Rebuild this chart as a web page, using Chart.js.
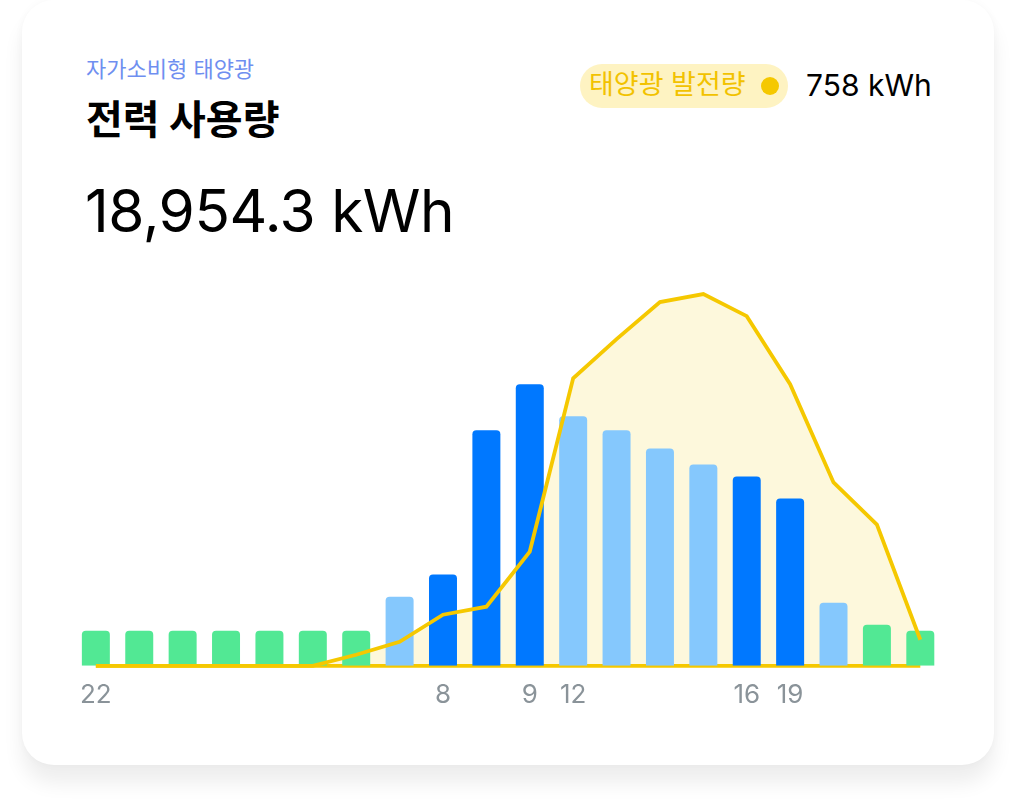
<!DOCTYPE html>
<html><head><meta charset="utf-8">
<script src="https://cdn.jsdelivr.net/npm/chart.js@4.4.1/dist/chart.umd.min.js"></script>
<style>
html,body{margin:0;padding:0;background:#fff;width:1016px;height:812px;overflow:hidden;font-family:Inter,"Noto Sans CJK KR",sans-serif}
.card{position:absolute;left:22px;top:0;width:972px;height:765px;border-radius:32px;background:#fff;box-shadow:0 18px 20px rgba(0,0,0,0.07),0 0 8px rgba(0,0,0,0.03)}
.t{position:absolute;white-space:nowrap;line-height:1}
.sub{left:86px;top:58px;font-size:22px;color:#6f8ff0}
.title{left:86px;top:100px;font-size:40px;font-weight:700;color:#000}
.big{left:85px;top:182px;font-size:58.5px;color:#000;letter-spacing:-0.5px}
.pill{position:absolute;left:580px;top:64px;width:208px;height:44px;border-radius:22px;background:#fef3c2}
.pilltxt{left:589px;top:71px;font-size:27px;color:#f2c200}
.dot{position:absolute;left:761px;top:77px;width:18px;height:18px;border-radius:50%;background:#f5c800}
.val{left:806px;top:70px;font-size:30px;color:#000}
#wrap{position:absolute;left:74px;top:251px;width:868px;height:466px}
</style></head>
<body>
<div class="card"></div>
<div class="t sub">자가소비형 태양광</div>
<div class="t title">전력 사용량</div>
<div class="t big">18,954.3 kWh</div>
<div class="pill"></div>
<div class="t pilltxt">태양광 발전량</div>
<div class="dot"></div>
<div class="t val">758 kWh</div>
<div id="wrap"><canvas id="c"></canvas></div>
<script>
// hourly slots (tick labels shown only where the original shows them)
const tickLabels = ['22','','','','','','','','8','','9','12','','','','16','19','','',''];
// electricity usage per slot (relative units)
const usage = [35,35,35,35,35,35,35,69,91,235,281,249,235,217,201,189,167,63,41,35];
// load type per slot: off = off-peak, mid = mid-load, peak = peak load
const loadType = ['off','off','off','off','off','off','off','mid','peak','peak','peak','mid','mid','mid','mid','peak','peak','mid','off','off'];
// solar generation per slot (same relative units)
const solar = [0,0,0,0,0,0,11,24,51,59,114,287,326,363,371,349,281,183,141,26];
// zero reference line
const baseline = [0,0,0,0,0,0,0,0,0,0,0,0,0,0,0,0,0,0,0,0];

const loadColors = {off:'#52e894', mid:'#85c8fd', peak:'#0078ff'};

new Chart(document.getElementById('c'), {
  type: 'bar',
  data: {
    labels: tickLabels,
    datasets: [
      {type:'line', data: solar, borderColor:'#f5c800', borderWidth:3.8, pointRadius:0, tension:0,
       fill:'origin', backgroundColor:'#fdf8dc', order:0, clip:false, borderJoinStyle:'miter'},
      {type:'bar', data: usage, backgroundColor: loadType.map(t => loadColors[t]),
       barPercentage:0.645, categoryPercentage:1, borderRadius:4, borderSkipped:'start', order:1},
      {type:'line', data: baseline, borderColor:'#f5c800', borderWidth:3.8, pointRadius:0, fill:false, order:2, clip:false}
    ]
  },
  options: {
    responsive:true, maintainAspectRatio:false, animation:false,
    layout:{padding:0},
    plugins:{legend:{display:false}, tooltip:{enabled:false}, filler:{drawTime:'beforeDatasetsDraw'}},
    scales:{
      x:{grid:{display:false}, border:{display:false},
         ticks:{color:'#8a9399', font:{family:'Inter', size:26}, autoSkip:false, maxRotation:0, padding:6}},
      y:{display:false, min:0, max:414}
    }
  }
});
</script>
</body></html>
